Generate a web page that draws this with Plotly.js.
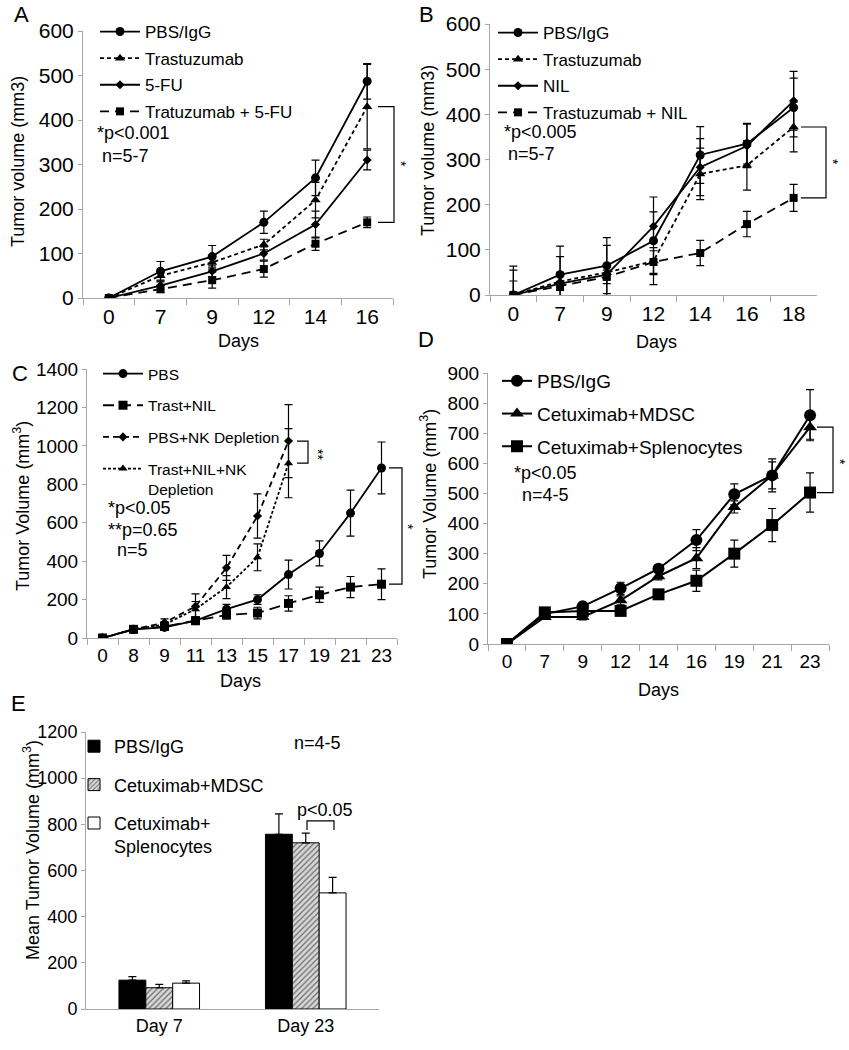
<!DOCTYPE html>
<html>
<head>
<meta charset="utf-8">
<script src="https://cdn.plot.ly/plotly-3.0.1.min.js"></script>
<style>html,body{margin:0;padding:0;background:#fff;}#chart{width:849px;height:1050px;}</style>
</head>
<body>
<div id="chart"></div>
<script>
// ---------- DATA ----------
// Panel A
const daysA = ['0','7','9','12','14','16'];
const A_pbs = [0,60,93,170,270,487];     const A_pbs_err = [0,22,25,25,40,40];
const A_tras = [0,50,80,120,220,430];    const A_tras_err = [0,10,15,12,40,95];
const A_5fu = [0,28,60,100,165,310];     const A_5fu_err = [0,8,12,15,30,22];
const A_t5fu = [0,20,40,65,122,170];     const A_t5fu_err = [0,8,18,18,15,12];
// Panel B
const daysB = ['0','7','9','12','14','16','18'];
const B_pbs = [0,45,65,120,310,335,415];  const B_pbs_err = [64,63,62,97,63,45,65];
const B_tras = [0,30,50,75,268,287,372];  const B_tras_err = [31,20,15,30,57,55,55];
const B_nil = [0,25,45,152,283,330,430];  const B_nil_err = [55,60,65,32,63,48,65];
const B_tnil = [0,20,40,73,93,157,215];   const B_tnil_err = [0,10,15,25,28,28,30];
// Panel C
const daysC = ['0','8','9','11','13','15','17','19','21','23'];
const C_pbs = [0,45,55,90,150,200,330,440,650,885];   const C_pbs_err = [0,8,10,15,25,25,75,65,120,135];
const C_tnil = [0,45,60,90,120,130,180,225,265,280];  const C_tnil_err = [0,8,10,15,20,30,40,40,55,80];
const C_pbsnk = [0,45,80,165,365,635,1025];           const C_pbsnk_err = [0,8,20,65,65,115,190];
const C_tnilnk = [0,45,70,150,265,420,910];           const C_tnilnk_err = [0,8,15,40,60,70,180];
// Panel D
const daysD = ['0','7','9','12','14','16','19','21','23'];
const D_pbs = [0,100,125,185,250,345,497,560,760];   const D_pbs_err = [0,10,10,20,12,35,35,55,85];
const D_mdsc = [0,90,90,145,225,285,455,560,720];    const D_mdsc_err = [0,8,10,15,12,35,20,45,40];
const D_spl = [0,105,110,110,165,210,300,395,503];   const D_spl_err = [0,10,10,12,10,35,45,55,65];
// Panel E
const groupsE = ['Day 7','Day 23'];
const E_pbs = [125,757];  const E_pbs_err = [15,88];
const E_mdsc = [92,720];  const E_mdsc_err = [15,42];
const E_spl = [112,503];  const E_spl_err = [10,67];

// ---------- HELPERS ----------
const W = 849, H = 1050;
const px = x => x / W;
const py = y => 1 - y / H;
const FONT = 'Liberation Sans, Arial, sans-serif';
const AX = '#a6a6a6';

function err(arr){ return {type:'data', array:arr, visible:true, color:'#000', thickness:1.2, width:4}; }
function line(x, y, e, name, sym, msize, dash, xa, ya, lg, grp, lw){
  return {x:x, y:y, name:name, type:'scatter', mode:'lines+markers',
    xaxis:xa, yaxis:ya, legend:lg, legendgroup:grp,
    line:{color:'#000', width:lw||1.8, dash:dash},
    marker:{symbol:sym, size:msize, color:'#000'},
    error_y:err(e)};
}
function xax(dom, anchor, n, fs, ticks){
  return {domain:dom, anchor:anchor, type:'category', range:[-0.5, n-0.5],
    showline:true, linecolor:AX, linewidth:1, showgrid:false, zeroline:false,
    ticks:ticks===false?'':'outside', tickson:'boundaries', ticklen:6, tickcolor:AX,
    tickfont:{family:FONT, size:fs, color:'#000'}, fixedrange:true};
}
function yax(dom, anchor, max, dt, fs){
  return {domain:dom, anchor:anchor, range:[0,max], dtick:dt,
    showline:true, linecolor:AX, linewidth:1, showgrid:false, zeroline:false,
    ticks:'outside', ticklen:4, tickcolor:AX,
    tickfont:{family:FONT, size:fs, color:'#000'}, fixedrange:true};
}

// ---------- TRACES ----------
const traces = [
  line(daysA, A_pbs, A_pbs_err, 'PBS/IgG', 'circle', 9, 'solid', 'x', 'y', 'legend', 'a1'),
  line(daysA, A_tras, A_tras_err, 'Trastuzumab', 'triangle-up', 9, '4px,3px', 'x', 'y', 'legend', 'a2'),
  line(daysA, A_5fu, A_5fu_err, '5-FU', 'diamond', 7, 'solid', 'x', 'y', 'legend', 'a3'),
  line(daysA, A_t5fu, A_t5fu_err, 'Tratuzumab + 5-FU', 'square', 8, '9px,6px', 'x', 'y', 'legend', 'a4'),

  line(daysB, B_pbs, B_pbs_err, 'PBS/IgG', 'circle', 9, 'solid', 'x2', 'y2', 'legend2', 'b1'),
  line(daysB, B_tras, B_tras_err, 'Trastuzumab', 'triangle-up', 9, '4px,3px', 'x2', 'y2', 'legend2', 'b2'),
  line(daysB, B_nil, B_nil_err, 'NIL', 'diamond', 7, 'solid', 'x2', 'y2', 'legend2', 'b3'),
  line(daysB, B_tnil, B_tnil_err, 'Trastuzumab + NIL', 'square', 8, '9px,6px', 'x2', 'y2', 'legend2', 'b4'),

  line(daysC, C_pbs, C_pbs_err, 'PBS', 'circle', 9, 'solid', 'x3', 'y3', 'legend3', 'c1'),
  line(daysC, C_tnil, C_tnil_err, 'Trast+NIL', 'square', 9, '11px,6px', 'x3', 'y3', 'legend3', 'c2'),
  line(daysC.slice(0, C_pbsnk.length), C_pbsnk, C_pbsnk_err, 'PBS+NK Depletion', 'diamond', 7, '6px,4px', 'x3', 'y3', 'legend3', 'c3'),
  line(daysC.slice(0, C_tnilnk.length), C_tnilnk, C_tnilnk_err, 'Trast+NIL+NK<br>Depletion', 'triangle-up', 8, '3px,2px', 'x3', 'y3', 'legend3', 'c4'),

  line(daysD, D_pbs, D_pbs_err, 'PBS/IgG', 'circle', 12, 'solid', 'x4', 'y4', 'legend4', 'd1', 2),
  line(daysD, D_mdsc, D_mdsc_err, 'Cetuximab+MDSC', 'triangle-up', 12, 'solid', 'x4', 'y4', 'legend4', 'd2', 2),
  line(daysD, D_spl, D_spl_err, 'Cetuximab+Splenocytes', 'square', 12, 'solid', 'x4', 'y4', 'legend4', 'd3', 2)
];
function bar(y, e, name, marker, grp){
  return {x:groupsE, y:y, name:name, type:'bar', xaxis:'x5', yaxis:'y5', legend:'legend5', legendgroup:grp,
    marker:marker,
    error_y:{type:'data', array:e, arrayminus:e.map(()=>0), symmetric:false, visible:true, color:'#000', thickness:1.2, width:4}};
}
traces.push(bar(E_pbs, E_pbs_err, 'PBS/IgG', {color:'#000', line:{color:'#000', width:1}}, 'e1'));
traces.push(bar(E_mdsc, E_mdsc_err, 'Cetuximab+MDSC', {color:'#c8c8c8', line:{color:'#000', width:1},
  pattern:{shape:'/', fgcolor:'#6a6a6a', bgcolor:'#d8d8d8', size:4, solidity:0.3}}, 'e2'));
traces.push(bar(E_spl, E_spl_err, 'Cetuximab+<br>Splenocytes', {color:'#fff', line:{color:'#000', width:1}}, 'e3'));

// ---------- ANNOTATIONS ----------
function ann(text, x, y, size, opts){
  return Object.assign({text:text, xref:'paper', yref:'paper', x:px(x), y:py(y), showarrow:false,
    font:{family:FONT, size:size, color:'#000'}, xanchor:'center', yanchor:'middle'}, opts||{});
}
const annotations = [
  ann('A', 21, 15, 22), ann('B', 426, 15, 22), ann('C', 20, 373, 22), ann('D', 426, 340, 22), ann('E', 18, 703, 22),
  ann('Tumor volume (mm3)', 18, 162, 18, {textangle:-90}),
  ann('Tumor volume (mm3)', 428, 151, 18, {textangle:-90}),
  ann('Tumor Volume (mm<sup>3</sup>)', 22, 506, 18, {textangle:-90}),
  ann('Tumor Volume (mm<sup>3</sup>)', 428, 494, 18, {textangle:-90}),
  ann('Mean Tumor Volume (mm<sup>3</sup>)', 31, 850, 18, {textangle:-90}),
  ann('Days', 238, 341, 18), ann('Days', 656, 342, 18), ann('Days', 240, 681, 18), ann('Days', 658, 690, 18),
  ann('*p<0.001', 95, 133, 18, {xanchor:'left'}), ann('n=5-7', 100, 156, 18, {xanchor:'left'}),
  ann('*p<0.005', 502, 132, 18, {xanchor:'left'}), ann('n=5-7', 506, 154, 18, {xanchor:'left'}),
  ann('*p<0.05', 106, 508, 18, {xanchor:'left'}), ann('**p=0.65', 106, 530, 18, {xanchor:'left'}), ann('n=5', 115, 550, 18, {xanchor:'left'}),
  ann('*p<0.05', 512, 473, 18, {xanchor:'left'}), ann('n=4-5', 520, 495, 18, {xanchor:'left'}),
  ann('n=4-5', 317, 743, 18), ann('p<0.05', 325, 810, 18),
  ann('*', 401, 164, 14, {textangle:90}), ann('*', 833, 162, 14, {textangle:90}),
  ann('**', 318, 454, 14, {textangle:90}), ann('*', 408, 527, 14, {textangle:90}),
  ann('*', 840, 462, 14, {textangle:90})
];

// ---------- BRACKETS ----------
function bracket(x0, x1, ytop, ybot, yref){
  return {type:'path', xref:'paper', yref:yref,
    path:'M'+px(x0)+','+ytop+' L'+px(x1)+','+ytop+' L'+px(x1)+','+ybot+' L'+px(x0)+','+ybot,
    line:{color:'#000', width:1.2}};
}
const shapes = [
  bracket(378, 394, A_tras[A_tras.length-1], A_t5fu[A_t5fu.length-1], 'y'),
  bracket(801, 826, B_tras[B_tras.length-1], B_tnil[B_tnil.length-1], 'y2'),
  bracket(297, 308, C_pbsnk[C_pbsnk.length-1], C_tnilnk[C_tnilnk.length-1], 'y3'),
  bracket(389, 402, C_pbs[C_pbs.length-1], C_tnil[C_tnil.length-1], 'y3'),
  bracket(817, 833, D_mdsc[D_mdsc.length-1], D_spl[D_spl.length-1], 'y4'),
  {type:'path', xref:'paper', yref:'y5',
   path:'M'+px(307)+',775 L'+px(307)+',815 L'+px(334)+',815 L'+px(334)+',775',
   line:{color:'#000', width:1.2}}
];

function leg(x, y, fs, gap, iw){
  return {x:px(x), y:py(y), xanchor:'left', yanchor:'top', bgcolor:'rgba(0,0,0,0)', borderwidth:0,
    font:{family:FONT, size:fs, color:'#000'}, traceorder:'grouped', tracegroupgap:gap, valign:'top',
    itemwidth:iw||30, itemclick:false, itemdoubleclick:false};
}

const layout = {
  width:W, height:H, margin:{l:0, r:0, t:0, b:0}, paper_bgcolor:'#fff', plot_bgcolor:'rgba(0,0,0,0)',
  showlegend:true, font:{family:FONT, color:'#000'},
  barmode:'group', bargap:0.45, bargroupgap:0,
  xaxis: xax([px(83), px(393)], 'y', daysA.length, 21),
  yaxis: yax([py(298), py(31)], 'x', 600, 100, 21),
  xaxis2: xax([px(490), px(817)], 'y2', daysB.length, 21),
  yaxis2: yax([py(295), py(24)], 'x2', 600, 100, 21),
  xaxis3: xax([px(87), px(397)], 'y3', daysC.length, 19),
  yaxis3: yax([py(638), py(369)], 'x3', 1400, 200, 19),
  xaxis4: xax([px(488), px(829)], 'y4', daysD.length, 19),
  yaxis4: yax([py(644), py(373)], 'x4', 900, 100, 19),
  xaxis5: xax([px(86), px(379)], 'y5', groupsE.length, 18, false),
  yaxis5: yax([py(1009), py(732)], 'x5', 1200, 200, 18),
  legend: leg(95, 14, 17, 1.5, 40),
  legend2: leg(493, 15, 17, 1.5, 40),
  legend3: leg(98, 357, 15.5, 8.5, 40),
  legend4: leg(497, 362, 19, 5),
  legend5: leg(74, 728, 18, 12),
  annotations: annotations,
  shapes: shapes
};

Plotly.newPlot('chart', traces, layout, {displayModeBar:false, staticPlot:true});
</script>
</body>
</html>
